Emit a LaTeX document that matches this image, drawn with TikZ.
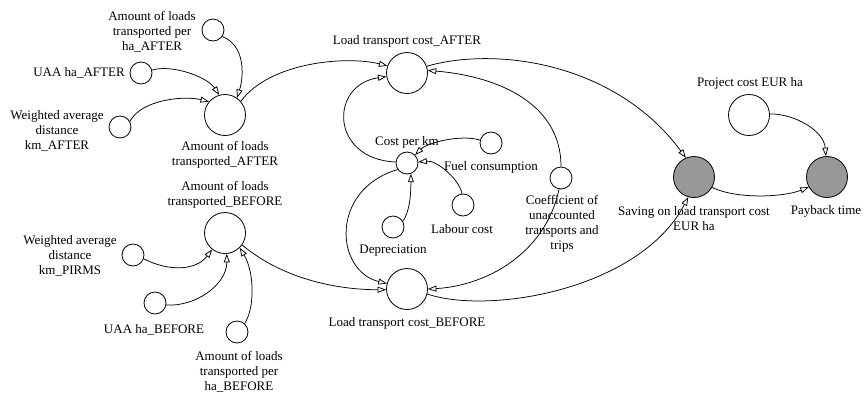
\documentclass[tikz,border=0pt]{standalone}
\usepackage{fontspec}
\setmainfont{Liberation Serif}
\usetikzlibrary{arrows.meta}
\definecolor{stockgray}{RGB}{152,152,152}
\tikzset{
  var/.style={circle, draw, line width=0.8pt, inner sep=0pt, fill=white},
  smallvar/.style={var, minimum size=22pt},
  bigvar/.style={var, minimum size=41pt},
  outvar/.style={bigvar, fill=stockgray},
  lbl/.style={align=center, inner sep=0pt, font=\fontsize{13}{15}\selectfont},
  link/.style={line width=0.75pt, -{Triangle[open, length=8.5pt, width=6pt]}},
  plain/.style={line width=0.75pt}
}
\begin{document}
\begin{tikzpicture}[x=1pt, y=-1pt]
\useasboundingbox (0,0) rectangle (864,392);

% ---- variables ----
\node[smallvar] (phaA) at (213,30) {};
\node[smallvar] (uaaA) at (141,73) {};
\node[smallvar] (wA)   at (120,127) {};
\node[bigvar]   (amtA) at (225,115) {};
\node[bigvar]   (amtB) at (225,233) {};
\node[smallvar] (wB)   at (133,255) {};
\node[smallvar] (uaaB) at (155,303) {};
\node[smallvar] (phaB) at (237,332) {};
\node[bigvar]   (ltcA) at (407,73) {};
\node[smallvar] (cpk)  at (407,163) {};
\node[smallvar] (fuel) at (491,143) {};
\node[smallvar] (coef) at (561,178) {};
\node[smallvar] (lab)  at (463,205) {};
\node[smallvar] (dep)  at (393,227) {};
\node[bigvar]   (ltcB) at (407,289) {};
\node[outvar]   (sav)  at (694,177) {};
\node[outvar]   (pay)  at (827,177) {};
\node[bigvar]   (proj) at (749,115) {};

% ---- labels ----
\node[lbl] (tphaA) at (152,32)  {Amount of loads\\transported per\\ha\_AFTER};
\node[lbl] (tuaaA) at (79,73)   {UAA ha\_AFTER};
\node[lbl] (twA)   at (57,131)  {Weighted average\\distance\\km\_AFTER};
\node[lbl] (tamtA) at (225,155) {Amount of loads\\transported\_AFTER};
\node[lbl] (tamtB) at (225,195) {Amount of loads\\transported\_BEFORE};
\node[lbl] (twB)   at (70,256)  {Weighted average\\distance\\km\_PIRMS};
\node[lbl] (tuaaB) at (154,330) {UAA ha\_BEFORE};
\node[lbl] (tphaB) at (239,372) {Amount of loads\\transported per\\ha\_BEFORE};
\node[lbl] (tltcA) at (407,41)  {Load transport cost\_AFTER};
\node[lbl] (tcpk)  at (407,142) {Cost per km};
\node[lbl] (tfuel) at (491,167) {Fuel consumption};
\node[lbl] (tcoef) at (562,224) {Coefficient of\\unaccounted\\transports and\\trips};
\node[lbl] (tlab)  at (462,229) {Labour cost};
\node[lbl] (tdep)  at (393,251) {Depreciation};
\node[lbl] (tltcB) at (407,323) {Load transport cost\_BEFORE};
\node[lbl] (tsav)  at (694,218.5) {Saving on load transport cost\\EUR ha};
\node[lbl] (tpay)  at (826,211) {Payback time};
\node[lbl] (tproj) at (750,83)  {Project cost EUR ha};

% ---- AFTER inputs ----
\draw[link] (phaA.-35) .. controls +(23,9) and +(7,-22) .. (amtA.55);
\draw[link] (uaaA.15) .. controls +(20,-6) and +(-12,-18) .. (amtA.106);
\draw[link] (wA.30) .. controls +(12,-22) and +(-25,-6) .. (amtA.140);

% ---- BEFORE inputs ----
\draw[link] (phaB.48) .. controls +(10,-15) and +(15,25) .. (amtB.-45);
\draw[link] (uaaB.-10) .. controls +(29,2) and +(0,31) .. (amtB.-85);
\draw[link] (wB.-20) .. controls +(26,13) and +(-16,21) .. (amtB.-128);

% ---- load transport cost ----
\draw[link] (amtA.41) .. controls +(30,-40) and +(-40,-10) .. (ltcA.160);
\draw[link] (cpk.175) .. controls +(-66,-3) and +(-57,8) .. (ltcA.190);
\draw[link] (coef.90) .. controls +(0,-67) and +(63,5) .. (ltcA.7);
\draw[link] (cpk.215) .. controls +(-68,20) and +(-52,-13) .. (ltcB.165);
\draw[link] (amtB.-35) .. controls +(42,35) and +(-47,0) .. (ltcB.182);
\draw[link] (coef.-100) .. controls +(-14,66) and +(56,-3) .. (ltcB.0);

% ---- cost per km ----
\draw[link] (fuel.165) .. controls +(-20,-6) and +(12,-12) .. (cpk.45);
\draw[link] (lab.95) .. controls +(-3,-15) and +(18,-2) .. (cpk.5);
\draw[link] (dep.31) .. controls +(6,-8) and +(0,25) .. (cpk.-70);

% ---- saving and payback ----
\draw[link] (ltcA.19) .. controls +(70,-20) and +(-70,-95) .. (sav.113);
\draw[link] (ltcB.-14) .. controls +(63,21) and +(-48,92) .. (sav.-106);
\draw[link] (sav.-30) .. controls +(25,12) and +(-25,10) .. (pay.209);
\draw[link] (proj.3) .. controls +(26,0) and +(-2,-25) .. (pay.93);
\end{tikzpicture}
\end{document}
